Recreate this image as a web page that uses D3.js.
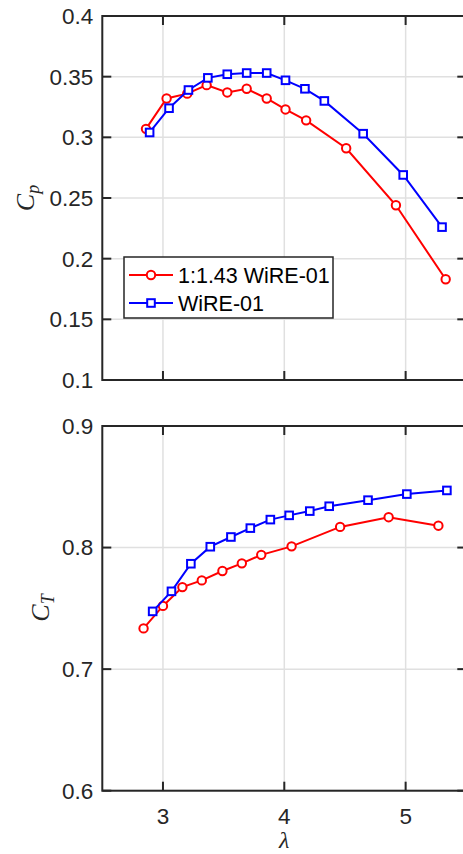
<!DOCTYPE html>
<html>
<head>
<meta charset="utf-8">
<script src="https://cdn.jsdelivr.net/npm/d3@7"></script>
<style>
  body { margin: 0; background: #fff; }
  text { font-family: "Liberation Sans", Arial, sans-serif; fill: #262626; }
  .lab { font-family: "Liberation Serif", "DejaVu Serif", serif; font-style: italic; }
</style>
</head>
<body>
<div id="chart"></div>
<script>
// tip speed ratio and coefficients
var cpLamScaled = [2.86, 3.03, 3.20, 3.36, 3.53, 3.69, 3.855, 4.01, 4.18, 4.51, 4.92, 5.33],
    cpScaled    = [0.307, 0.332, 0.336, 0.343, 0.337, 0.340, 0.332, 0.323, 0.314, 0.291, 0.244, 0.183];
var cpLamWire = [2.89, 3.05, 3.21, 3.37, 3.53, 3.69, 3.855, 4.01, 4.17, 4.33, 4.65, 4.98, 5.30],
    cpWire    = [0.304, 0.324, 0.339, 0.349, 0.352, 0.353, 0.353, 0.347, 0.340, 0.330, 0.303, 0.269, 0.226];

var ctLamScaled = [2.84, 3.00, 3.16, 3.32, 3.49, 3.65, 3.81, 4.06, 4.46, 4.86, 5.27],
    ctScaled    = [0.7335, 0.752, 0.7675, 0.773, 0.7807, 0.787, 0.794, 0.801, 0.817, 0.825, 0.818];
var ctLamWire = [2.915, 3.07, 3.23, 3.39, 3.56, 3.72, 3.885, 4.04, 4.21, 4.37, 4.69, 5.01, 5.34],
    ctWire    = [0.7475, 0.764, 0.7867, 0.8007, 0.8087, 0.816, 0.823, 0.8265, 0.830, 0.834, 0.839, 0.844, 0.847];

var xTicks = [3, 4, 5],
    cpTicks = [0.1, 0.15, 0.2, 0.25, 0.3, 0.35, 0.4],
    ctTicks = [0.6, 0.7, 0.8, 0.9];

var W = 463, H = 854,
    red = "#ff0000", blue = "#0000ff", gridCol = "#e0e0e0", axCol = "#262626";

var svg = d3.select("#chart").append("svg").attr("width", W).attr("height", H);

var x = d3.scaleLinear().domain([2.5, 5.5]).range([102.3, 466.3]);

function panel(top, bottom, ydom, yticks, fmt, series, showX) {
  var y = d3.scaleLinear().domain(ydom).range([bottom, top]);
  var g = svg.append("g");

  // grid
  g.selectAll(".gx").data(xTicks).enter().append("line")
    .attr("x1", d => x(d)).attr("x2", d => x(d)).attr("y1", top).attr("y2", bottom)
    .attr("stroke", gridCol).attr("stroke-width", 1.5);
  g.selectAll(".gy").data(yticks).enter().append("line")
    .attr("x1", x.range()[0]).attr("x2", x.range()[1]).attr("y1", d => y(d)).attr("y2", d => y(d))
    .attr("stroke", gridCol).attr("stroke-width", 1.5);

  // lines + markers
  series.forEach(function (s) {
    var pts = s.xs.map((v, i) => [v, s.ys[i]]);
    g.append("path").datum(pts)
      .attr("fill", "none").attr("stroke", s.color).attr("stroke-width", 2)
      .attr("d", d3.line().x(d => x(d[0])).y(d => y(d[1])));
    if (s.shape == "circle") {
      g.selectAll(null).data(pts).enter().append("circle")
        .attr("cx", d => x(d[0])).attr("cy", d => y(d[1])).attr("r", 4.2)
        .attr("fill", "#fff").attr("stroke", s.color).attr("stroke-width", 2);
    } else {
      g.selectAll(null).data(pts).enter().append("rect")
        .attr("x", d => x(d[0]) - 3.8).attr("y", d => y(d[1]) - 3.8)
        .attr("width", 7.6).attr("height", 7.6)
        .attr("fill", "#fff").attr("stroke", s.color).attr("stroke-width", 2);
    }
  });

  // frame
  g.append("rect").attr("x", x.range()[0]).attr("y", top)
    .attr("width", x.range()[1] - x.range()[0]).attr("height", bottom - top)
    .attr("fill", "none").attr("stroke", axCol).attr("stroke-width", 2);

  // ticks (inside, MATLAB style)
  var tl = 9;
  xTicks.forEach(function (t) {
    g.append("line").attr("x1", x(t)).attr("x2", x(t)).attr("y1", bottom).attr("y2", bottom - tl)
      .attr("stroke", axCol).attr("stroke-width", 2);
    g.append("line").attr("x1", x(t)).attr("x2", x(t)).attr("y1", top).attr("y2", top + tl)
      .attr("stroke", axCol).attr("stroke-width", 2);
  });
  yticks.forEach(function (t) {
    g.append("line").attr("x1", x.range()[0]).attr("x2", x.range()[0] + tl).attr("y1", y(t)).attr("y2", y(t))
      .attr("stroke", axCol).attr("stroke-width", 2);
    g.append("line").attr("x1", x.range()[1]).attr("x2", x.range()[1] - tl).attr("y1", y(t)).attr("y2", y(t))
      .attr("stroke", axCol).attr("stroke-width", 2);
  });

  // tick labels
  g.selectAll(".yl").data(yticks).enter().append("text")
    .attr("x", x.range()[0] - 9).attr("y", d => y(d)).attr("dy", "0.35em")
    .attr("text-anchor", "end").style("font-size", "22.5px")
    .text(fmt);
  if (showX) {
    g.selectAll(".xl").data(xTicks).enter().append("text")
      .attr("x", d => x(d)).attr("y", bottom + 33)
      .attr("text-anchor", "middle").style("font-size", "22.5px")
      .text(d => d);
  }
  return y;
}

var fmtNum = d => String(+d.toFixed(2));

panel(16, 380, [0.1, 0.4], cpTicks, fmtNum, [
  { xs: cpLamScaled, ys: cpScaled, color: red, shape: "circle" },
  { xs: cpLamWire, ys: cpWire, color: blue, shape: "square" }
], false);

panel(426, 790.7, [0.6, 0.9], ctTicks, fmtNum, [
  { xs: ctLamScaled, ys: ctScaled, color: red, shape: "circle" },
  { xs: ctLamWire, ys: ctWire, color: blue, shape: "square" }
], true);

// axis labels
function ylabel(px, py, main, sub) {
  var t = svg.append("text").attr("class", "lab")
    .attr("transform", "translate(" + px + "," + py + ") rotate(-90)")
    .attr("text-anchor", "middle").style("font-size", "26px");
  t.append("tspan").text(main);
  t.append("tspan").attr("dy", 5).style("font-size", "18px").text(sub);
}
ylabel(34, 198, "C", "p");
ylabel(49, 608, "C", "T");

svg.append("text").attr("class", "lab").attr("x", x(4)).attr("y", 848)
  .attr("text-anchor", "middle").style("font-size", "24px").text("λ");

// legend
var leg = svg.append("g").attr("transform", "translate(124,257)");
leg.append("rect").attr("width", 209).attr("height", 61)
  .attr("fill", "#fff").attr("stroke", axCol).attr("stroke-width", 1.5);
var legItems = [
  { name: "1:1.43 WiRE-01", color: red, shape: "circle" },
  { name: "WiRE-01", color: blue, shape: "square" }
];
legItems.forEach(function (it, i) {
  var cy = 18 + i * 28;
  leg.append("line").attr("x1", 5).attr("x2", 49).attr("y1", cy).attr("y2", cy)
    .attr("stroke", it.color).attr("stroke-width", 2);
  if (it.shape == "circle") {
    leg.append("circle").attr("cx", 27).attr("cy", cy).attr("r", 4.2)
      .attr("fill", "#fff").attr("stroke", it.color).attr("stroke-width", 2);
  } else {
    leg.append("rect").attr("x", 23.2).attr("y", cy - 3.8).attr("width", 7.6).attr("height", 7.6)
      .attr("fill", "#fff").attr("stroke", it.color).attr("stroke-width", 2);
  }
  leg.append("text").attr("x", 54).attr("y", cy).attr("dy", "0.35em")
    .style("font-size", "21.5px").style("fill", "#000").text(it.name);
});
</script>
</body>
</html>
